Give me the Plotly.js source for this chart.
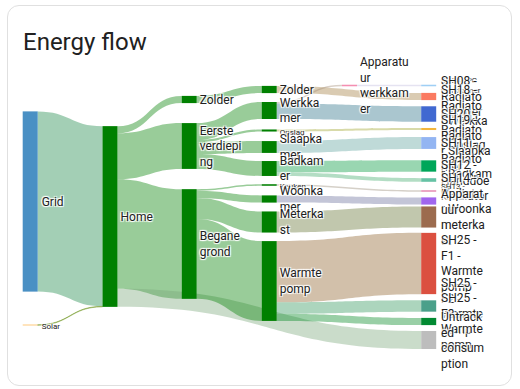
<!DOCTYPE html>
<html>
<head>
<meta charset="utf-8">
<script src="https://cdn.plot.ly/plotly-3.0.1.min.js"></script>
<style>
  html, body { margin: 0; padding: 0; background: #ffffff; overflow: hidden; width: 520px; height: 389px; }
  #card { position: absolute; left: 7px; top: 5px; width: 505px; height: 381px;
          box-sizing: border-box; border: 1px solid #e0e0e0; border-radius: 12px; background: #fff; }
  #chart { position: absolute; left: 0; top: 0; width: 520px; height: 389px; }
</style>
</head>
<body>
<div id="card"></div>
<div id="chart"></div>
<script>
// ---- data (energy, kWh) ----
const nodeLabels = [
  "Grid", "Solar", "Home",
  "Zolder", "Eerste verdieping", "Begane grond",
  "Zolder", "Werkkamer", "Opslag", "Slaapkamer", "Badkamer", "Keuken", "Woonkamer", "Meterkast", "Warmtepomp",
  "Apparatuur werkkamer",
  "SH24 - PC werkkamer", "SH08 - Radiator Zolder", "SH18 - Radiator Werkkamer", "SH20 - Radiator Opslag",
  "SH19 - Radiator Slaapkamer", "SH11 - Radiator Badkamer", "SH12 - Handdoekradiator", "SH13 - Keuken",
  "SH14 - Radiator Woonkamer", "Apparatuur meterkast", "SH25 - F1 - Warmtepomp", "SH25 - F2 - Warmtepomp",
  "SH25 - F3 - Warmtepomp", "Untracked consumption"
];
// label text as displayed (wrapped like the card does)
const displayLabels = [
  "Grid", "Solar", "Home",
  "Zolder", "Eerste<br>verdiepi<br>ng", "Begane<br>grond",
  "Zolder", "Werkka<br>mer", "Opslag", "Slaapka<br>mer", "Badkam<br>er", "Keuken", "Woonka<br>mer", "Meterka<br>st", "Warmte<br>pomp",
  "Apparatu<br>ur<br>werkkam<br>er",
  "SH24 - PC<br>werkkamer", "SH08 -<br>Radiato<br>r Zolder", "SH18 -<br>Radiato<br>r Werkka<br>mer", "SH20 -<br>Radiato<br>r Opslag",
  "SH19 -<br>Radiato<br>r Slaapka<br>mer", "SH11 -<br>Radiato<br>r Badkam<br>er", "SH12 -<br>Handdoe<br>kradiator", "SH13 -<br>Keuken",
  "SH14 -<br>Radiato<br>r Woonka<br>mer", "Apparat<br>uur<br>meterka<br>st", "SH25 -<br>F1 -<br>Warmte<br>pomp", "SH25 -<br>F2 -<br>Warmte<br>pomp",
  "SH25 -<br>F3 -<br>Warmte<br>pomp", "Untrack<br>ed<br>consum<br>ption"
];
const nodeColors = [
  "#4a90c4", "#ff9800", "#008000",
  "#008000", "#008000", "#008000",
  "#008000", "#008000", "#008000", "#008000", "#008000", "#008000", "#008000", "#008000", "#008000",
  "#f48fb1",
  "#9fcff5", "#fa7a61", "#4169d1", "#f2b53c",
  "#93b5f2", "#00a65a", "#66c2a5", "#e58fb5",
  "#a066ee", "#9c6b4e", "#db5040", "#4aa08a",
  "#028a32", "#bdbdbd"
];
const smallLabel = [1, 8, 11, 16, 23];

const linkSource = [0, 1, 2, 2, 2, 2, 3, 4, 4, 4, 4, 5, 5, 5, 5, 6, 7, 7, 15, 8, 9, 10, 10, 11, 12, 13, 14, 14, 14];
const linkTarget = [2, 2, 3, 4, 5, 29, 6, 7, 8, 9, 10, 11, 12, 13, 14, 17, 15, 18, 16, 19, 20, 21, 22, 23, 24, 25, 26, 27, 28];
const linkValue  = [17.50, 0.05, 0.70, 4.45, 10.65, 1.75, 0.70, 1.65, 0.20, 1.15, 1.45, 0.15, 0.70, 2.05, 7.75,
                    0.70, 0.15, 1.50, 0.15, 0.20, 1.15, 1.10, 0.35, 0.15, 0.70, 2.05, 5.95, 1.10, 0.70];

// ---- layout helpers (positions in page pixels, style) ----
const W = 520, H = 389, TOP = 60, PLOT_H = 300, THICK = 15;
const colPx = [30.2, 30.2, 110, 189.2, 189.2, 189.2,
  269.2, 269.2, 269.2, 269.2, 269.2, 269.2, 269.2, 269.2, 269.2, 349.5,
  428.7, 428.7, 428.7, 428.7, 428.7, 428.7, 428.7, 428.7, 428.7, 428.7, 428.7, 428.7, 428.7, 428.7];
const rowPx = [201.5, 325, 216.5, 99.5, 146, 244,
  89.5, 110.5, 130.5, 147, 168.5, 185, 199, 222, 281, 85.5,
  85.5, 96.5, 114, 129, 143, 166, 180, 191, 201, 217, 263.5, 306, 321.5, 340];

function hexToRgb(h) { const n = parseInt(h.slice(1), 16); return [(n >> 16) & 255, (n >> 8) & 255, n & 255]; }
function mix(a, b, t) { const A = hexToRgb(a), B = hexToRgb(b);
  return A.map((v, i) => Math.round(v * (1 - t) + B[i] * t)); }
const linkColors = linkSource.map((s, i) => {
  const c = mix(nodeColors[s], nodeColors[linkTarget[i]], 0.65);
  return `rgba(${c[0]},${c[1]},${c[2]},0.4)`;
});
const styled = (t, i) => smallLabel.includes(i) ? `<span style="font-size:8px">${t}</span>` : t;

// rightmost column keeps its labels on the right side of the nodes (as in the card)
const lastCol = Math.max(...colPx);
const inLastCol = colPx.map(v => v === lastCol);
const sankeyLabels = displayLabels.map((t, i) => inLastCol[i] ? "" : styled(t, i));
const halo = "1px 1px 1px #fff, -1px -1px 1px #fff, 1px -1px 1px #fff, -1px 1px 1px #fff";
const annotations = displayLabels.map((t, i) => inLastCol[i] ? {
  text: t, xref: "paper", yref: "paper",
  x: (colPx[i] + THICK / 2 + 3) / W, y: 1 - (rowPx[i] - TOP) / PLOT_H,
  xanchor: "left", yanchor: "middle", align: "left", showarrow: false,
  font: { family: "Roboto, sans-serif", size: smallLabel.includes(i) ? 8 : 12,
          color: "#212121", shadow: halo }
} : null).filter(a => a);

const trace = {
  type: "sankey",
  arrangement: "fixed",
  domain: { x: [0, 1], y: [0, 1] },
  node: {
    label: sankeyLabels,
    customdata: nodeLabels,
    color: nodeColors,
    x: colPx.map(v => v / W), y: rowPx.map(v => (v - TOP) / PLOT_H),
    align: "left",
    pad: 11.44, thickness: THICK,
    line: { width: 0 },
    hovertemplate: "%{customdata}: %{value} kWh<extra></extra>"
  },
  link: {
    source: linkSource, target: linkTarget, value: linkValue,
    color: linkColors,
    hovertemplate: "%{value} kWh<extra></extra>"
  },
  textfont: { family: "Roboto, sans-serif", size: 12, color: "#212121" }
};

const layout = {
  width: W, height: H,
  margin: { l: 0, r: 0, t: TOP, b: H - TOP - PLOT_H },
  paper_bgcolor: "rgba(0,0,0,0)",
  plot_bgcolor: "rgba(0,0,0,0)",
  font: { family: "Roboto, sans-serif", color: "#212121" },
  title: { text: "Energy flow", x: 23 / W, xanchor: "left", xref: "container",
           y: 1 - 42 / H, yanchor: "middle", yref: "container",
           font: { family: "Roboto, sans-serif", size: 24, color: "#212121" } },
  annotations: annotations
};

Plotly.newPlot("chart", [trace], layout, { displayModeBar: false });
</script>
</body>
</html>
